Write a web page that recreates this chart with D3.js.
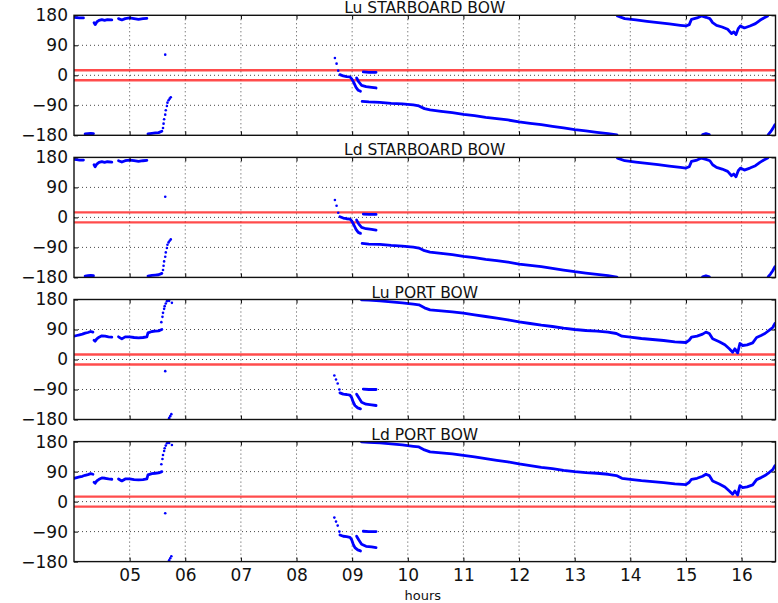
<!DOCTYPE html>
<html>
<head>
<meta charset="utf-8">
<script src="https://cdn.jsdelivr.net/npm/d3@7"></script>
<style>
    body { margin: 0; background: #fff; }
    svg { display: block; font-family: "DejaVu Sans", sans-serif; }
</style>
</head>
<body>
<svg id="bowAngles" width="778" height="603"></svg>
<script>
// Tick values and labels
const hourTicks = [5, 6, 7, 8, 9, 10, 11, 12, 13, 14, 15, 16];
const hourLabels = ["05", "06", "07", "08", "09", "10", "11", "12", "13", "14", "15", "16"];
const angleTicks = [180, 90, 0, -90, -180];
const angleLabels = ["180", "90", "0", "\u221290", "\u2212180"];
const panelTitles = ["Lu STARBOARD BOW", "Ld STARBOARD BOW", "Lu PORT BOW", "Ld PORT BOW"];
const limitAngles = [15, -15];

// Starboard bow angle (degrees) vs hours, split where the track breaks or wraps
const starboardSegments = [
    [[4.0, 174], [4.05, 173], [4.1, 172], [4.17, 172]],
    [[4.2, -176], [4.25, -175], [4.3, -174], [4.35, -175]],
    [[4.36, 158], [4.38, 152], [4.41, 160], [4.45, 165], [4.5, 167], [4.55, 165], [4.6, 167], [4.68, 166]],
    [[4.8, 170], [4.86, 166], [4.92, 170], [5.0, 172], [5.08, 170], [5.16, 168], [5.24, 170], [5.31, 171]],
    [[5.33, -176], [5.4, -174], [5.46, -173], [5.52, -172], [5.58, -168]],
    [[8.78, 2], [8.84, -2], [8.9, -4], [8.96, -5], [8.99, -10], [9.03, -22], [9.07, -36], [9.11, -45], [9.15, -48]],
    [[9.08, -8], [9.12, -20], [9.17, -30], [9.25, -34], [9.35, -36], [9.43, -38]],
    [[9.2, 10], [9.3, 9], [9.43, 9]],
    [[9.18, -78], [9.3, -80], [9.5, -81], [9.7, -84], [9.9, -86], [10.1, -89], [10.2, -92], [10.3, -100],
     [10.4, -104], [10.6, -108], [10.8, -112], [11.0, -117], [11.2, -121], [11.4, -126], [11.6, -130],
     [11.8, -134], [12.0, -140], [12.2, -144], [12.4, -148], [12.6, -153], [12.8, -158], [13.0, -163],
     [13.2, -167], [13.4, -171], [13.6, -175], [13.76, -179]],
    [[13.77, 178], [13.9, 170], [14.1, 166], [14.3, 162], [14.5, 158], [14.7, 154], [14.9, 150], [15.0, 148],
     [15.06, 152], [15.1, 168], [15.2, 172], [15.28, 178], [15.36, 174], [15.43, 170], [15.48, 158],
     [15.55, 150], [15.65, 145], [15.75, 138], [15.82, 125], [15.86, 130], [15.9, 122], [15.94, 140],
     [15.98, 148], [16.05, 142], [16.15, 148], [16.25, 155], [16.33, 165], [16.4, 172], [16.47, 178]],
    [[15.3, -178], [15.36, -175], [15.42, -178]],
    [[16.48, -178], [16.52, -170], [16.56, -160], [16.6, -148]]
];
const starboardDots = [
    [5.6, -158], [5.61, -145], [5.62, -132], [5.64, -118], [5.65, -105], [5.67, -92], [5.68, -82],
    [5.7, -75], [5.72, -70], [5.74, -66], [5.64, 62],
    [8.69, 52], [8.72, 35], [8.75, 14]
];

// Port bow angle (degrees) vs hours
const portSegments = [
    [[4.0, 70], [4.05, 72], [4.1, 74], [4.15, 76], [4.2, 79], [4.25, 81], [4.3, 84], [4.34, 82]],
    [[4.36, 58], [4.38, 55], [4.41, 62], [4.45, 67], [4.5, 71], [4.56, 70], [4.62, 68], [4.68, 67]],
    [[4.8, 68], [4.86, 62], [4.92, 68], [5.0, 68], [5.08, 66], [5.16, 65], [5.24, 66], [5.31, 68],
     [5.33, 80], [5.4, 84], [5.46, 85], [5.52, 86], [5.58, 90]],
    [[8.78, -100], [8.84, -104], [8.9, -105], [8.96, -107], [8.99, -114], [9.02, -128], [9.05, -138],
     [9.1, -145], [9.15, -148]],
    [[9.08, -104], [9.12, -115], [9.17, -128], [9.25, -134], [9.35, -136], [9.43, -138]],
    [[9.2, -89], [9.3, -90], [9.43, -90]],
    [[9.17, 179], [9.3, 178], [9.5, 176], [9.7, 173], [9.9, 170], [10.1, 166], [10.2, 164], [10.3, 155],
     [10.4, 149], [10.6, 146], [10.8, 143], [11.0, 139], [11.2, 134], [11.4, 129], [11.6, 124], [11.8, 119],
     [12.0, 113], [12.2, 108], [12.4, 103], [12.6, 99], [12.8, 94], [13.0, 90], [13.2, 87], [13.4, 85],
     [13.6, 82], [13.75, 78], [13.85, 70], [14.0, 67], [14.2, 63], [14.4, 60], [14.6, 57], [14.8, 53],
     [15.0, 51], [15.06, 58], [15.1, 67], [15.2, 70], [15.3, 76], [15.36, 82], [15.42, 78], [15.48, 62],
     [15.6, 53], [15.7, 44], [15.78, 32], [15.84, 22], [15.88, 32], [15.93, 20], [15.97, 48], [16.02, 42],
     [16.1, 44], [16.2, 50], [16.27, 66], [16.35, 72], [16.42, 78], [16.5, 88], [16.56, 96], [16.6, 108]]
];
const portDots = [
    [5.57, 112], [5.59, 128], [5.6, 140], [5.62, 152], [5.63, 160], [5.65, 168], [5.67, 175], [5.69, 179],
    [5.71, 176], [5.76, 170], [5.64, -35], [5.71, -176], [5.73, -170], [5.75, -164],
    [8.68, -48], [8.71, -60], [8.74, -72], [8.77, -90]
];

const panels = [
    { title: panelTitles[0], segments: starboardSegments, dots: starboardDots },
    { title: panelTitles[1], segments: starboardSegments, dots: starboardDots },
    { title: panelTitles[2], segments: portSegments, dots: portDots },
    { title: panelTitles[3], segments: portSegments, dots: portDots }
];

const svg = d3.select('#bowAngles');
const margin = { top: 15.3, left: 74, right: 2.5 };
const width = +svg.attr("width") - margin.left - margin.right;
const panelHeight = 120;
const panelStep = 142.1;

const x = d3.scaleLinear().domain([4, 16.61]).range([0, width]);
const y = d3.scaleLinear().domain([-180, 180]).range([panelHeight, 0]);

const line = d3.line()
    .x(d => x(d[0]))
    .y(d => y(d[1]));

svg.append("defs").append("clipPath")
    .attr("id", "plotClip")
    .append("rect")
    .attr("width", width)
    .attr("height", panelHeight);

panels.forEach((panel, i) => {
    const g = svg.append("g")
        .attr("transform", `translate(${margin.left},${margin.top + i * panelStep})`);

    // dotted grid
    g.append("g").selectAll("line")
        .data(hourTicks)
        .enter().append("line")
        .attr("x1", d => x(d)).attr("x2", d => x(d))
        .attr("y1", 0).attr("y2", panelHeight)
        .attr("stroke", "#333")
        .attr("stroke-width", 0.9)
        .attr("stroke-dasharray", "1,3");
    g.append("g").selectAll("line")
        .data(angleTicks.slice(1, -1))
        .enter().append("line")
        .attr("x1", 0).attr("x2", width)
        .attr("y1", d => y(d)).attr("y2", d => y(d))
        .attr("stroke", "#333")
        .attr("stroke-width", 0.9)
        .attr("stroke-dasharray", "1,3");

    // +/-15 degree limit lines
    g.append("g").selectAll("line")
        .data(limitAngles)
        .enter().append("line")
        .attr("x1", 0).attr("x2", width)
        .attr("y1", d => y(d)).attr("y2", d => y(d))
        .attr("stroke", "#ff0000")
        .attr("stroke-opacity", 0.7)
        .attr("stroke-width", 2.4);

    const data = g.append("g").attr("clip-path", "url(#plotClip)");
    data.selectAll("path")
        .data(panel.segments)
        .enter().append("path")
        .attr("d", line)
        .attr("fill", "none")
        .attr("stroke", "#0000ff")
        .attr("stroke-width", 2.8)
        .attr("stroke-linejoin", "round")
        .attr("stroke-linecap", "round");
    data.selectAll("circle")
        .data(panel.dots)
        .enter().append("circle")
        .attr("cx", d => x(d[0]))
        .attr("cy", d => y(d[1]))
        .attr("r", 1.3)
        .attr("fill", "#0000ff");

    // axes with inward ticks
    const left = g.append("g")
        .call(d3.axisLeft(y).tickValues(angleTicks)
            .tickFormat((d, k) => angleLabels[k])
            .tickSizeInner(-4).tickSizeOuter(0).tickPadding(6));
    const right = g.append("g")
        .attr("transform", `translate(${width},0)`)
        .call(d3.axisRight(y).tickValues(angleTicks).tickFormat("")
            .tickSizeInner(-4).tickSizeOuter(0));
    const top = g.append("g")
        .call(d3.axisTop(x).tickValues(hourTicks).tickFormat("")
            .tickSizeInner(-4).tickSizeOuter(0));
    const bottom = g.append("g")
        .attr("transform", `translate(0,${panelHeight})`)
        .call(d3.axisBottom(x).tickValues(hourTicks)
            .tickFormat((d, k) => i === panels.length - 1 ? hourLabels[k] : "")
            .tickSizeInner(-4).tickSizeOuter(0).tickPadding(7));

    [left, right, top, bottom].forEach(a => {
        a.attr("font-family", "DejaVu Sans, sans-serif").attr("font-size", 17);
        a.select(".domain").remove();
        a.selectAll(".tick line").attr("stroke", "#000").attr("stroke-width", 1);
        a.selectAll(".tick text").attr("fill", "#111");
    });

    g.append("rect")
        .attr("width", width)
        .attr("height", panelHeight)
        .attr("fill", "none")
        .attr("stroke", "#111")
        .attr("stroke-width", 1.4);

    g.append("text")
        .attr("x", width / 2)
        .attr("y", -2)
        .attr("text-anchor", "middle")
        .attr("font-size", 15.5)
        .attr("fill", "#111")
        .text(panel.title);
});

svg.append("text")
    .attr("x", margin.left + width / 2 - 2)
    .attr("y", 599.5)
    .attr("text-anchor", "middle")
    .attr("font-size", 13)
    .attr("fill", "#111")
    .text("hours");
</script>
</body>
</html>
